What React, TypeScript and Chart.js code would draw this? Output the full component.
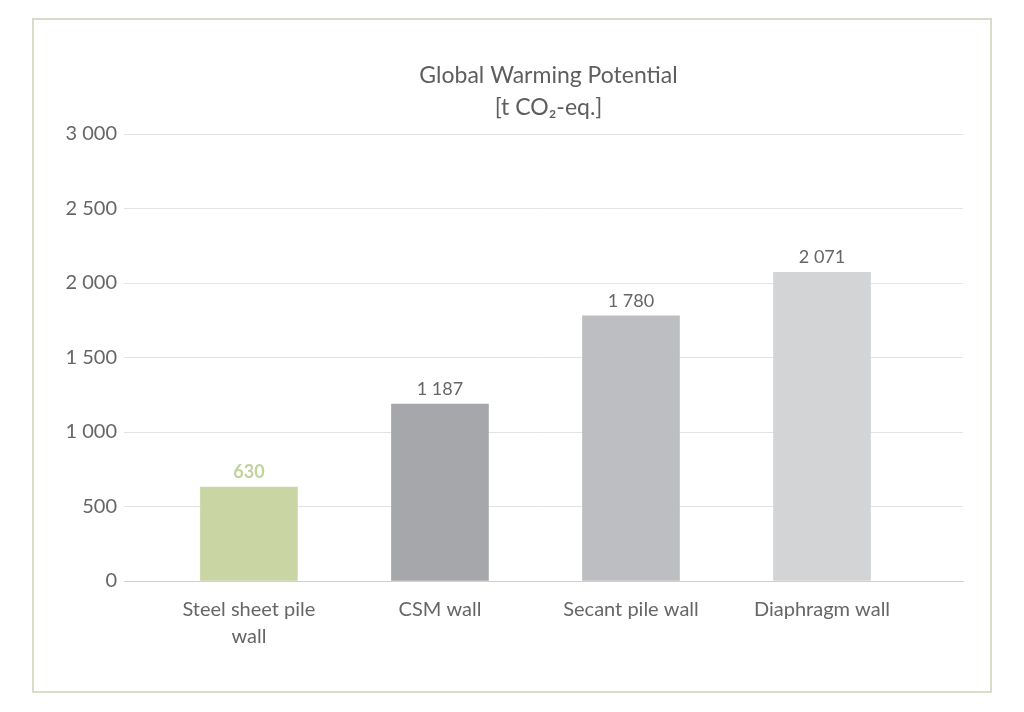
import React, { useEffect, useRef } from 'react';
import { Chart, registerables } from 'chart.js';

Chart.register(...registerables);

const categories: (string | string[])[] = [['Steel sheet pile', 'wall'], 'CSM wall', 'Secant pile wall', 'Diaphragm wall'];
const gwpValues = [630, 1187, 1780, 2071];
const barColors = ['#c9d6a3', '#a6a7aa', '#bdbec1', '#d3d4d6'];
const labelColors = ['#c3d19c', '#666666', '#666666', '#666666'];
const titleLines = ['Global Warming Potential', '[t CO₂-eq.]'];

const FONT = 'Lato, "Open Sans", sans-serif';

const formatNumber = (v: number) => String(v).replace(/\B(?=(\d{3})+(?!\d))/g, ' ');

const titlePlugin = {
  id: 'gwpTitle',
  afterDraw(chart: any) {
    const { ctx, chartArea } = chart;
    const cx = (chartArea.left + chartArea.right) / 2 + 5;
    ctx.save();
    ctx.fillStyle = '#5e5e5e';
    ctx.font = `23px ${FONT}`;
    ctx.textAlign = 'center';
    ctx.textBaseline = 'alphabetic';
    ctx.fillText(titleLines[0], cx, 63);
    ctx.fillText(titleLines[1], cx, 95);
    ctx.restore();
  },
};

const valueLabelPlugin = {
  id: 'valueLabels',
  afterDatasetsDraw(chart: any) {
    const { ctx } = chart;
    const meta = chart.getDatasetMeta(0);
    ctx.save();
    ctx.textAlign = 'center';
    ctx.textBaseline = 'alphabetic';
    meta.data.forEach((bar: any, i: number) => {
      ctx.font = i === 0 ? `bold 18px ${FONT}` : `18px ${FONT}`;
      ctx.fillStyle = labelColors[i];
      ctx.fillText(formatNumber(gwpValues[i]), bar.x, bar.y - 9);
    });
    ctx.restore();
  },
};

const GwpChart: React.FC = () => {
  const chartRef = useRef<HTMLCanvasElement>(null);
  const chartInstance = useRef<Chart | null>(null);

  useEffect(() => {
    if (!chartRef.current) return;
    if (chartInstance.current) chartInstance.current.destroy();

    chartInstance.current = new Chart(chartRef.current, {
      type: 'bar',
      data: {
        datasets: [
          {
            data: gwpValues.map((v, i) => ({ x: i, y: v })),
            backgroundColor: barColors,
            barThickness: 97,
            borderWidth: 0,
          },
        ],
      },
      options: {
        animation: false,
        responsive: false,
        layout: { padding: { left: 0, right: 27, top: 114, bottom: 0 } },
        plugins: {
          legend: { display: false },
          tooltip: { enabled: false },
        },
        scales: {
          x: {
            type: 'linear',
            min: -0.654,
            max: 3.738,
            offset: false,
            grid: { display: false, offset: false },
            border: { display: true, color: '#cfcfcf', width: 1 },
            afterBuildTicks: (scale: any) => {
              scale.ticks = categories.map((_, i) => ({ value: i }));
            },
            afterFit: (scale: any) => {
              scale.height = 110;
            },
            ticks: {
              autoSkip: false,
              maxRotation: 0,
              padding: 7,
              color: '#666666',
              font: { family: FONT, size: 20, lineHeight: 1.35 },
              callback: (value: any) => categories[value as number],
            },
          },
          y: {
            min: 0,
            max: 3000,
            border: { display: false },
            grid: { color: '#e2e2e2', drawTicks: false },
            afterFit: (scale: any) => {
              scale.width = 90;
            },
            ticks: {
              stepSize: 500,
              padding: 7,
              color: '#666666',
              font: { family: FONT, size: 20 },
              callback: (value: any) => formatNumber(Number(value)),
            },
          },
        },
      },
      plugins: [titlePlugin, valueLabelPlugin],
    } as any);

    return () => {
      if (chartInstance.current) {
        chartInstance.current.destroy();
        chartInstance.current = null;
      }
    };
  }, []);

  return <canvas ref={chartRef} width={956} height={671} style={{ display: 'block' }} />;
};

const App: React.FC = () => {
  return (
    <div style={{ position: 'absolute', left: 0, top: 0, width: 1024, height: 712, background: '#ffffff' }}>
      <div
        style={{
          position: 'absolute',
          left: 32,
          top: 18,
          width: 956,
          height: 671,
          border: '2px solid #d9dcc9',
          background: '#ffffff',
        }}
      >
        <GwpChart />
      </div>
    </div>
  );
};

export default App;
